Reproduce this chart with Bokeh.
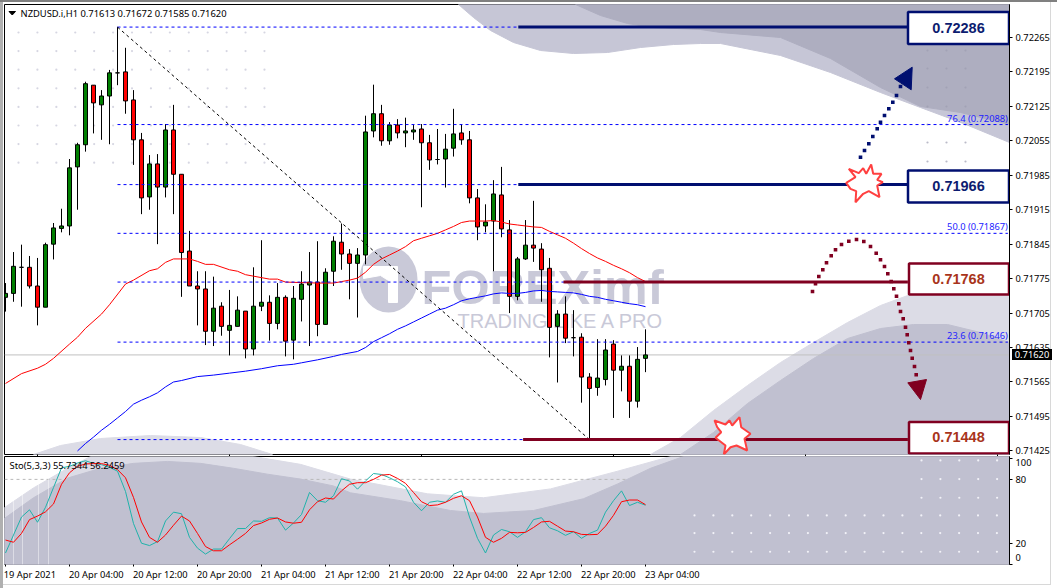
from bokeh.core.properties import value
from bokeh.embed import file_html
from bokeh.layouts import column
from bokeh.models import ColumnDataSource, Div, FixedTicker, PrintfTickFormatter, Range1d
from bokeh.plotting import figure
from bokeh.resources import INLINE

# ---------- candles (H1, 19 Apr 20:00 .. 23 Apr 04:00) in 1e-5 price units
open_ = [71737,71745,71798,71798,71760,71717,71845,71877,71882,72002,72047,72168,72128,72146,72193,72195,72138,72057,71941,72008,
         71961,72077,71987,71831,71760,71754,71668,71719,71670,71678,71709,71632,71719,71727,71684,71737,71650,71733,71762,71768,
         71682,71790,71849,71825,71806,71823,72075,72110,72055,72087,72071,72073,72079,72051,72017,72018,72040,72071,72057,71939,
         71882,71892,71945,71874,71739,71815,71843,71835,71796,71678,71703,71655,71656,71575,71554,71570,71642,71589,71597,71526,71613]
high = [71766,71829,71844,71821,71817,71848,71888,71917,72018,72051,72175,72168,72158,72199,72286,72244,72158,72071,72026,72028,
        72089,72128,71987,71872,71790,71790,71779,71727,71752,71739,71709,71798,71853,71741,71766,71741,71760,71790,71829,71851,
        71796,71861,71887,71835,71837,72106,72169,72128,72093,72099,72102,72087,72089,72067,72079,72069,72120,72089,72075,71957,
        71926,71975,72002,71894,71819,71894,71933,71847,71817,71711,71739,71711,71664,71583,71652,71652,71650,71619,71619,71636,71672]
low = [71708,71728,71718,71755,71680,71717,71814,71869,71863,71915,72033,72070,72057,72048,72168,72110,72006,71906,71915,71845,
       71940,71906,71738,71760,71680,71640,71638,71659,71619,71678,71613,71619,71709,71649,71672,71617,71611,71688,71638,71658,
       71682,71760,71793,71733,71696,71804,72062,72045,72047,72060,72042,72057,71920,71996,72007,71960,72023,72047,71928,71853,
       71869,71790,71859,71705,71731,71813,71809,71728,71615,71564,71644,71617,71523,71448,71537,71558,71492,71546,71492,71513,71585]
close = [71745,71800,71798,71760,71717,71844,71878,71882,72000,72047,72171,72132,72146,72193,72193,72136,72057,71939,72008,71961,
         72077,71987,71828,71760,71754,71668,71715,71678,71680,71711,71632,71719,71727,71684,71737,71648,71735,71764,71768,71682,
         71788,71851,71825,71806,71823,72073,72110,72055,72087,72071,72075,72077,72051,72016,72017,72038,72069,72057,71939,71880,
         71890,71947,71876,71739,71815,71843,71837,71793,71676,71703,71654,71655,71575,71552,71573,71630,71589,71597,71526,71611,71620]

# moving averages: (bar, price)
red_ma_bar = [0,2,4,5,6,8,9,10,12,13,15,16,18,19,20,21,23,24,25,26,28,29,30,31,33,34,35,37,39,41,42,43,44,45,46,47,48,49,50,51,52,53,54,55,56,57,58,60,61,62,63,64,65,66,67,68,69,70,71,72,73,74,75,76,77,78,79,80]
red_ma = [71562,71582,71593,71601,71613,71642,71656,71674,71703,71722,71764,71772,71791,71795,71808,71815,71815,71810,71804,71804,71793,71790,71783,71780,71774,71774,71768,71767,71766,71766,71769,71772,71776,71788,71804,71815,71823,71831,71840,71852,71857,71862,71867,71874,71881,71889,71892,71892,71893,71890,71886,71884,71882,71880,71879,71871,71864,71857,71847,71836,71826,71817,71810,71802,71795,71787,71777,71769]
blue_ma_bar = [9,10,11,12,13,14,15,16,17,18,19,20,21,22,24,26,28,30,32,34,36,37,39,41,42,44,45,46,47,48,49,50,51,52,53,54,55,56,57,58,59,60,61,62,63,64,65,66,67,68,69,70,71,72,73,74,75,76,77,78,79,80]
blue_ma = [71425,71440,71453,71467,71479,71492,71505,71520,71528,71535,71543,71555,71565,71568,71576,71579,71583,71587,71592,71598,71601,71604,71610,71617,71621,71627,71635,71647,71655,71663,71672,71679,71687,71695,71703,71711,71715,71722,71730,71734,71737,71740,71744,71746,71745,71745,71747,71750,71751,71749,71748,71747,71746,71743,71739,71737,71733,71730,71727,71724,71722,71718]

# stochastic
sto_main = [10.8,27.7,44.6,51.4,39.7,53.8,72.3,90.8,92.3,95.4,97.5,95,93.8,91.4,87.7,68.6,38.5,20,17.8,21.5,40.9,49.2,47.7,25.5,15.4,9.8,14.5,14.5,24.3,33.8,33.8,40.9,40.6,44,43.7,32.3,39,47,67.7,60,58.5,64.6,80.6,78.5,70.8,78.5,85.5,84.6,81.5,77.8,72.9,58.5,50.5,58.5,59.7,58.5,66,69.2,44.6,24.6,10.8,27.7,32.9,30.8,25.5,30.8,42.2,44,34.5,31.7,27.4,30.8,24.6,29.2,32.3,49.2,60,69.2,55.4,58.5,55.73]
sto_signal = [23,20.9,29.2,42.2,45.5,49.5,56.9,75.4,86.2,92.3,94.5,94.8,94.8,93.2,89.2,81.5,63,40,25.5,20.9,27.7,36.9,45.5,40.9,29.2,16.9,12.9,12.9,18.5,23.7,29.2,36.6,39,42.5,43.7,40,38.8,39.7,51.4,59,62.5,61.5,69.2,75.4,76.9,76.9,80,84,84.6,80.9,76.3,67.7,59,55.4,56,58.5,62.2,64.6,60,44.6,25.5,20.9,24.6,30.2,29.8,30.2,34.8,40,40.6,36,31.4,30.8,28.3,28,28.3,36,46.2,59,60.6,60.6,56.25]

# Fibonacci and trading levels
fib_levels = [0.71448,0.71646,0.71768,0.71867,0.71966,0.72088,0.72286]
fib_labels = ["", "23.6 (0.71646)", "", "50.0 (0.71867)", "", "76.4 (0.72088)", ""]
fib_bar_start = 14
fib_bar_end = 125.3
diag_bars = [14, 73]
diag_prices = [0.72286, 0.71448]
navy_levels = [0.72286, 0.71966]
navy_start = [64.1, 64.1]
wine_levels = [0.71768, 0.71448]
wine_start = [69.75, 64.7]
level_end = 112.8
last_price = 0.71620

price_ticks = [0.72265,0.72195,0.72125,0.72055,0.71985,0.71915,0.71845,0.71775,0.71705,0.71635,0.71565,0.71495,0.71425]
time_labels = ["19 Apr 2021","20 Apr 04:00","20 Apr 12:00","20 Apr 20:00","21 Apr 04:00","21 Apr 12:00","21 Apr 20:00","22 Apr 04:00","22 Apr 12:00","22 Apr 20:00","23 Apr 04:00"]
time_bars = [0,8,16,24,32,40,48,56,64,72,80]
time_label_centres = [3.05,11.35,19.35,27.35,35.35,43.35,51.35,59.35,67.35,75.35,83.35]
day_ticks = [4,28,52,76,100,124]
sto_ticks = [0,20,80,100]
sto_label_pos = [6.5,20,80,95.5]
sto_labels = ["0","20","80","100"]

# ---------- decoration, in window pixels
C_DARK_TOP, C_LIGHT_TOP = "#aeaec0", "#c6c6d6"
C_DARK, C_LIGHT = "#c0c0d0", "#dcdce6"
NAVY, WINE = "#000f70", "#800020"
top_light_x = [458,473,490,513,540,573,607,640,673,700,720,780,830,880,920,963,1009,1009,458]
top_light_y = [4,17,30,42,50,53,52,47,44,43,43,55,72,92,107,123,142,4,4]
top_dark_x = [575,600,627,653,700,720,780,830,880,920,960,1009,1009,575]
top_dark_y = [4,15,23,27,29,32,37,58,87,106,112,124,4,4]
left_hump_x = [33,60,100,150,200,240,272]
left_hump_y = [454,445,438,435,437,444,454]
right_light_x = [650,680,713,747,780,813,847,880,910,1009,1009,650]
right_light_y = [454,437,410,385,362,342,322,305,294,295,454,454]
right_dark_x = [680,713,747,780,813,847,880,913,947,980,1009,1009,680]
right_dark_y = [454,432,403,380,358,338,328,324,324,332,342,454,454]
sub_light_x = [4,33,67,90,253,300,350,427,483,550,617,670,1009,1009,4]
sub_light_y = [507,487,467,455,455,463,478,493,497,488,470,455,455,565,565]
sub_dark_x = [4,33,67,100,133,167,200,233,267,300,333,350,400,450,483,533,583,617,650,683,1009,1009,4]
sub_dark_y = [518,497,477,467,462,460,462,467,473,478,485,492,500,510,513,510,498,483,467,455,455,565,565]
arrow_cut_x = [363,397,397,388,388,380,363]
arrow_cut_y = [266,266,302,302,280,275,278]
star1_x = [845.7,855,848.3,858.3,862.7,865.7,870.7,872.7,881,876.7,882.3,876.7,879,868.3,862.7,855,855.7,850]
star1_y = [182.3,176.7,168.3,172.7,167.7,173.3,164,173.3,173.3,179.3,181.7,185,196.7,190.7,193.3,201.7,190.7,188.3]
star2_x = [714,725,729,731.7,739,740.7,750,744,746.7,736,730,723.3,725,715,720.7,716.7]
star2_y = [420,424,420,425,416.7,426.7,433.3,438.3,450,445,446.7,454,445,437.3,431.7,426.7]
up_dots_x = [860,864,868.3,872.3,876.7,880,884,888.3,892.3,896,900]
up_dots_y = [156.7,150,143.3,136,128.3,121.7,115,108.3,101.7,95,86]
down_dots_x = [812,815,818.3,822.3,826,830.7,835,841,848.3,856,863.3,870,875.7,880,884,887.3,890.7,893.3,896,898.3,900,902.7,905,906.7,908.3,910,911.7,914,915.7]
down_dots_y = [291,283.3,276,269.3,262.3,255.3,249.3,244,240.7,239,241,246,252.7,259.3,266,273.3,281,288.3,295.7,303.3,311,318.3,326.7,334.3,342.3,350,357.7,366,374.3]

p1 = figure(width=1057, height=456, x_range=Range1d(-0.125, 125.5), y_range=Range1d(0.714177, 0.723319),
            y_axis_location="right", output_backend="svg", toolbar_location=None,
            min_border_left=4, min_border_right=48, min_border_top=4, min_border_bottom=2,
            background_fill_color="white", border_fill_alpha=0, outline_line_color="black")
p1.extra_x_ranges = {"px": Range1d(4, 1009)}
p1.extra_y_ranges = {"py": Range1d(454, 4)}
p1.grid.visible = False
PX = dict(x_range_name="px", y_range_name="py")
FONT = value("Noto Sans")
ARIAL = value("Liberation Sans")

p1.patch(top_light_x, top_light_y, color=C_LIGHT_TOP, **PX)
p1.patch(top_dark_x, top_dark_y, color=C_DARK_TOP, **PX)
p1.patch(left_hump_x, left_hump_y, color=C_LIGHT, **PX)
p1.patch(right_light_x, right_light_y, color=C_LIGHT, **PX)
p1.patch(right_dark_x, right_dark_y, color=C_DARK, **PX)

# watermark dots
gx = [18 + 18.92 * k for k in range(14)]
gy = [32 + 18.6 * k for k in range(8)]
p1.scatter([a for a in gx for _ in gy], [b for _ in gx for b in gy], size=2.2, color="#d6d6e2", line_color=None, **PX)
rx = [927, 946, 965]
ry = [50, 68, 87, 106, 124, 142, 161]
p1.scatter([a for a in rx for _ in ry], [b for _ in rx for b in ry], size=2.2, color="#9c9cb0", line_color=None, alpha=0.7, **PX)

# watermark logo
p1.ellipse([388], [279], width=58, height=66, color="#c9c9d8", line_color=None, **PX)
p1.patch(arrow_cut_x, arrow_cut_y, color="white", **PX)
p1.text([421], [286], text=["FOREXimf"], text_font=ARIAL, text_font_style="bold", text_font_size="49px",
        text_color="#c9c9d8", text_baseline="middle", **PX)
p1.text([457], [320], text=["TRADING LIKE A PRO"], text_font=ARIAL, text_font_size="20px",
        text_color="#c9c9d8", text_baseline="middle", **PX)

# price line
p1.line([-0.125, 125.5], [last_price, last_price], color="#c0c0c0", line_width=1)

# candles
bars = list(range(len(open_)))
op = [v / 1e5 for v in open_]
hi = [v / 1e5 for v in high]
lo = [v / 1e5 for v in low]
cl = [v / 1e5 for v in close]
src = ColumnDataSource(dict(
    x=bars, open=op, high=hi, low=lo, close=cl,
    top=[max(a, b) for a, b in zip(op, cl)], bottom=[min(a, b) for a, b in zip(op, cl)],
    fill=["#ff0000" if c < o else "#007f00" for o, c in zip(op, cl)]))
p1.segment("x", "high", "x", "low", source=src, color="black", line_width=1)
p1.vbar("x", 0.5, "top", "bottom", source=src, fill_color="fill", line_color="black", line_width=1)

# moving averages
p1.line(red_ma_bar, [v / 1e5 for v in red_ma], color="#ff0000", line_width=1)
p1.line(blue_ma_bar, [v / 1e5 for v in blue_ma], color="#0000ff", line_width=1)

# fibonacci
p1.segment([fib_bar_start] * 7, fib_levels, [fib_bar_end] * 7, fib_levels, color="#0000ff", line_width=1, line_dash="3 3")
p1.line(diag_bars, diag_prices, color="black", line_width=1, line_dash="3 3")
p1.text([fib_bar_end] * 7, fib_levels, text=fib_labels, text_font=FONT, text_font_size="9.3px", text_color="#2222ff",
        text_align="right", text_baseline="bottom")

# trading levels
p1.segment(navy_start, navy_levels, [level_end] * 2, navy_levels, color=NAVY, line_width=3)
p1.segment(wine_start, wine_levels, [level_end] * 2, wine_levels, color=WINE, line_width=3)

# arrows
p1.scatter(up_dots_x, up_dots_y, marker="square", size=3.6, color=NAVY, line_color=None, **PX)
p1.patch([911.7, 894, 910.7], [66.7, 78.3, 89.3], color=NAVY, **PX)
p1.scatter(down_dots_x, down_dots_y, marker="square", size=3.6, color=WINE, line_color=None, **PX)
p1.patch([907.3, 926, 920], [382.3, 379, 399], color=WINE, **PX)

# bursts
p1.patch(star1_x, star1_y, fill_color="white", line_color="#ff4040", line_width=2, **PX)
p1.patch(star2_x, star2_y, fill_color="white", line_color="#ff4040", line_width=2, **PX)

# boxes
box_txt = [f"{v:.5f}" for v in navy_levels + wine_levels]
box_l = [907.5, 907.5, 908.5, 908.5]
box_r = [1008.5] * 4
box_t = [11.5, 170, 263, 421.5]
box_b = [43.5, 202, 294, 453]
box_c = [NAVY, NAVY, WINE, WINE]
box_tc = ["#0d1c70", "#0d1c70", "#a8341a", "#a8341a"]
p1.quad(left=box_l, right=box_r, top=box_t, bottom=box_b, fill_color="white", line_color=box_c, line_width=2.5, **PX)
p1.text([958] * 4, [27, 185, 278, 436.5], text=box_txt, text_color=box_tc, text_font=ARIAL, text_font_style="bold",
        text_font_size="14.5px", text_align="center", text_baseline="middle", **PX)

# title
p1.patch([8.5, 15, 11.75], [11, 11, 14.5], color="black", **PX)
p1.text([20], [12.5], text=["NZDUSD.i,H1  0.71613 0.71672 0.71585 0.71620"], text_font=FONT, text_font_size="9.4px",
        text_color="black", text_baseline="middle", **PX)

# axes of the price panel
ya = p1.yaxis[0]
ya.ticker = FixedTicker(ticks=price_ticks)
ya.formatter = PrintfTickFormatter(format="%.5f")
ya.major_label_text_font = "Noto Sans"
ya.major_label_text_font_size = "9.3px"
ya.major_label_text_color = "black"
ya.major_tick_in = 0
ya.major_tick_out = 3
ya.major_label_standoff = 3
ya.minor_tick_line_color = None
ya.axis_line_color = "black"
xa = p1.xaxis[0]
xa.ticker = FixedTicker(ticks=day_ticks)
xa.major_label_overrides = {t: "" for t in day_ticks}
xa.major_label_standoff = 0
xa.major_tick_in = 0
xa.major_tick_out = 2
xa.minor_tick_line_color = None
xa.axis_line_color = None

# ---------- stochastic panel
p2 = figure(width=1057, height=127, x_range=p1.x_range, y_range=Range1d(0, 101.5),
            y_axis_location="right", output_backend="svg", toolbar_location=None,
            min_border_left=4, min_border_right=48, min_border_top=0, min_border_bottom=14,
            background_fill_color="white", border_fill_alpha=0, outline_line_color="black")
p2.extra_x_ranges = {"px": Range1d(4, 1009)}
p2.extra_y_ranges = {"py": Range1d(565, 455)}
p2.grid.visible = False

p2.patch(sub_light_x, sub_light_y, color=C_LIGHT, **PX)
p2.line([-0.125, 125.5], [80, 80], color="#b8b8b8", line_width=1, line_dash="3 3")
p2.patch(sub_dark_x, sub_dark_y, color=C_DARK, **PX)
p2.segment([13, 22, 38, 48], [460] * 4, [13, 22, 38, 48], [565] * 4, color="white", alpha=0.45, line_width=1, **PX)
dx1 = [694 + 18.9 * k for k in range(17)]
dy1 = [515, 533, 552]
dx2 = [921 + 18.9 * k for k in range(5)]
dy2 = [459, 478, 497]
p2.scatter([a for a in dx1 for _ in dy1] + [a for a in dx2 for _ in dy2],
           [b for _ in dx1 for b in dy1] + [b for _ in dx2 for b in dy2],
           size=2.2, color="#f2f2f8", line_color=None, **PX)
p2.line(bars, sto_main, color="#20b2aa", line_width=1)
p2.line(bars, sto_signal, color="#ff0000", line_width=1)
p2.text([9], [464], text=["Sto(5,3,3) 55.7344 56.2459"], text_font=FONT, text_font_size="9.4px", text_color="black",
        text_baseline="middle", **PX)

ya2 = p2.yaxis[0]
ya2.ticker = FixedTicker(ticks=sto_label_pos, minor_ticks=sto_ticks)
ya2.major_label_overrides = dict(zip(sto_label_pos, sto_labels))
ya2.major_label_text_font = "Noto Sans"
ya2.major_label_text_font_size = "9.3px"
ya2.major_label_text_color = "black"
ya2.major_tick_line_color = None
ya2.major_tick_out = 3
ya2.major_label_standoff = 3
ya2.minor_tick_in = 0
ya2.minor_tick_out = 3
ya2.axis_line_color = "black"

xa2 = p2.xaxis[0]
xa2.ticker = FixedTicker(ticks=time_label_centres, minor_ticks=time_bars)
xa2.major_label_overrides = dict(zip(time_label_centres, time_labels))
xa2.major_label_text_font = "Noto Sans"
xa2.major_label_text_font_size = "9.3px"
xa2.major_label_text_color = "black"
xa2.major_tick_line_color = None
xa2.major_tick_out = 0
xa2.major_label_standoff = 1
xa2.minor_tick_in = 0
xa2.minor_tick_out = 2
xa2.axis_line_color = None

price_tag = Div(text=f"{last_price:.5f}", width=40, height=11, margin=0,
                styles={"position": "absolute", "left": "1012px", "top": "349px", "background": "black", "color": "white",
                        "font-family": "Noto Sans", "font-size": "9.3px", "line-height": "11px", "text-align": "center",
                        "z-index": "10"})

layout = column(p1, p2, price_tag, spacing=0)
layout.styles = {"position": "relative", "height": "588px",
                 "background": "linear-gradient(#808080,#808080) 0 0/100% 2px no-repeat, "
                               "linear-gradient(#b0b0b0,#b0b0b0) 0 0/3px 100% no-repeat, "
                               "linear-gradient(#d8d8d8,#d8d8d8) 0 584px/1051px 1px no-repeat, "
                               "linear-gradient(#d8d8d8,#d8d8d8) 1050px 0/1px 584px no-repeat, white"}
open("out.html", "w").write(file_html(layout, INLINE))
